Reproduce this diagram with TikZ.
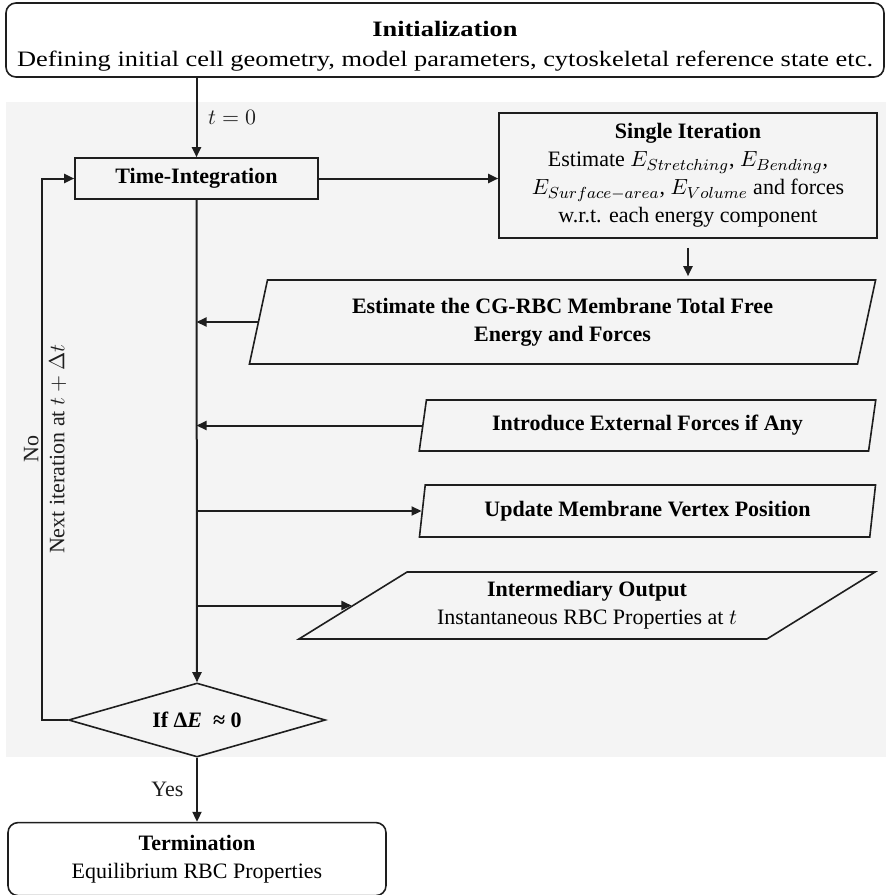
\documentclass[tikz,border=0pt]{standalone}
\usepackage{fontspec}
\setmainfont{Liberation Serif}
\newfontfamily\widefont[FakeStretch=1.2]{Liberation Serif}
\usepackage{tikz}
\usetikzlibrary{arrows.meta, positioning, shapes.geometric}
\definecolor{ink}{HTML}{1E1E1E}
\definecolor{panel}{HTML}{F4F4F4}

\begin{document}
\begin{tikzpicture}[
      x=0.5pt, y=-0.5pt,
      font=\fontsize{11}{14}\selectfont,
      box/.style={rectangle, draw=ink, line width=0.8pt, align=center,
                  inner sep=0pt},
      term/.style={box, rounded corners=5pt},
      io/.style={trapezium, draw=ink, line width=0.8pt, align=center,
                 inner sep=0pt, trapezium stretches=true},
      decide/.style={diamond, draw=ink, line width=0.8pt, align=center,
                     inner sep=0pt, aspect=3.5},
      arr/.style={-{Triangle[length=5pt, width=4.5pt]}, line width=1pt, ink}
    ]
    \useasboundingbox (0,0) rectangle (886,895);
    \fill[panel] (6,102) rectangle (886,757);

    \node[term, minimum width=439pt, minimum height=37pt,
          font=\widefont\fontsize{11}{15}\selectfont] (init) at (445,40)
      {\rule{0pt}{14pt}\textbf{Initialization}\\Defining initial cell geometry, model parameters, cytoskeletal reference state etc.};
    \node[box, minimum width=121.5pt, minimum height=20.5pt] (time) at (196.5,178.5)
      {\textbf{Time-Integration}};
    \node[box, minimum width=189pt, minimum height=62.5pt] (single) at (688,175.5)
      {\textbf{Single Iteration}\\Estimate $E_{Stretching}$, $E_{Bending}$,\\
       $E_{Surface-area}$, $E_{Volume}$ and forces\\w.r.t. each energy component};
    \node[io, trapezium left angle=75, trapezium right angle=105,
          minimum width=313.5pt, minimum height=42pt] (est) at (562.5,322)
      {\textbf{Estimate the CG-RBC Membrane Total Free}\\\textbf{Energy and Forces}};
    \node[io, trapezium left angle=76, trapezium right angle=104,
          minimum width=228.5pt, minimum height=25.5pt] (intro) at (647.5,425.5)
      {\textbf{Introduce External Forces if Any}};
    \node[io, trapezium left angle=78, trapezium right angle=102,
          minimum width=228.5pt, minimum height=26pt] (upd) at (647.5,511)
      {\textbf{Update Membrane Vertex Position}};
    \node[io, trapezium left angle=28, trapezium right angle=152,
          minimum width=289pt, minimum height=33.5pt] (out) at (587,605.5)
      {\textbf{Intermediary Output}\\Instantaneous RBC Properties at $t$};
    \node[decide, minimum width=128.5pt, minimum height=37pt] (check) at (197,720)
      {\textbf{If Δ\textit{E}\ \ ≈ 0}};
    \node[term, minimum width=189pt, minimum height=36.5pt, below=32pt of check] (stop)
      {\textbf{Termination}\\Equilibrium RBC Properties};

    \draw[arr] (time.north |- init.south) -- node[right, xshift=2pt]{$t = 0$} (time.north);
    \draw[arr] (time.east) -- (time.east -| single.west);
    \draw[arr] ([yshift=-4.5pt]single.south) -- ([yshift=1.5pt]single.south |- est.north);
    \draw[arr] (est.west) -- (est.west -| time.south);
    \draw[arr] (intro.west) -- (intro.west -| time.south);
    \draw[arr] (upd.west -| time.south) -- (upd.west);
    \draw[arr] (out.west -| time.south) -- (out.west);
    \draw[arr] (time.south) -- (check.north);
    \draw[arr] (check.south) -- node[left, xshift=-3pt]{Yes} (stop.north);
    \draw[arr] (check.west) -- ++(-13pt,0) |- (time.west)
      node[pos=0.25, rotate=90, above, inner sep=1pt]{No}
      node[pos=0.25, rotate=90, below]{Next iteration at $t + \Delta t$};
  \end{tikzpicture}
\end{document}
